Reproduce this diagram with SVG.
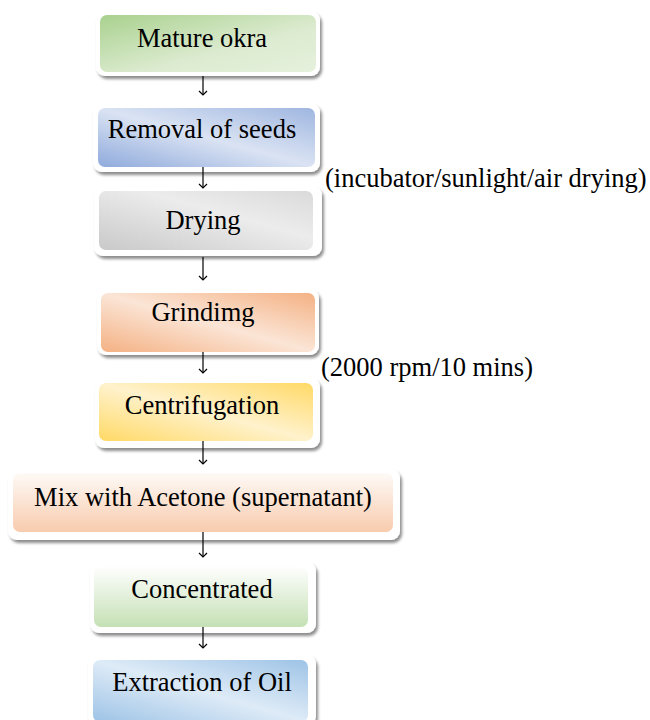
<svg xmlns="http://www.w3.org/2000/svg" width="650" height="720" viewBox="0 0 650 720">
<style>
text{font-family:"Liberation Serif","Times New Roman",serif;font-size:26.5px;fill:#000}
.c{text-anchor:middle}
.frame{fill:#fff;filter:url(#sh)}
.conn line{stroke:#000;stroke-width:1.2;marker-end:url(#ah)}
</style>
<defs>
<filter id="sh" x="-10%" y="-20%" width="120%" height="150%">
<feGaussianBlur in="SourceAlpha" stdDeviation="1.5"/>
<feOffset dx="2" dy="3" result="b"/>
<feComponentTransfer><feFuncA type="linear" slope="0.45"/></feComponentTransfer>
<feMerge><feMergeNode/><feMergeNode in="SourceGraphic"/></feMerge>
</filter>
<marker id="ah" markerWidth="10" markerHeight="10" refX="5" refY="5" orient="auto" markerUnits="userSpaceOnUse">
<path d="M1,1 L5,5 L1,9" fill="none" stroke="#000" stroke-width="1.2"/>
</marker>
<linearGradient id="g1" x1="0" y1="0" x2="1" y2="1"><stop offset="0" stop-color="#a9d18e"/><stop offset="0.6" stop-color="#dcebd0"/><stop offset="1" stop-color="#e6f1dd"/></linearGradient>
<linearGradient id="g2" x1="0" y1="1" x2="1" y2="0"><stop offset="0" stop-color="#8faadc"/><stop offset="0.5" stop-color="#dae3f3"/><stop offset="1" stop-color="#9fb6e0"/></linearGradient>
<linearGradient id="g3" x1="0" y1="1" x2="1" y2="0"><stop offset="0" stop-color="#c9c9c9"/><stop offset="0.6" stop-color="#ececec"/><stop offset="1" stop-color="#dadada"/></linearGradient>
<linearGradient id="g4" x1="0" y1="1" x2="1" y2="0"><stop offset="0" stop-color="#f4b183"/><stop offset="0.5" stop-color="#fbe5d6"/><stop offset="1" stop-color="#f4b183"/></linearGradient>
<linearGradient id="g5" x1="0" y1="1" x2="1" y2="0"><stop offset="0" stop-color="#ffd966"/><stop offset="0.5" stop-color="#fff2cc"/><stop offset="1" stop-color="#ffd966"/></linearGradient>
<linearGradient id="g6" x1="0" y1="0" x2="0" y2="1"><stop offset="0" stop-color="#fefaf7"/><stop offset="1" stop-color="#f8cbad"/></linearGradient>
<linearGradient id="g7" x1="0" y1="0" x2="0" y2="1"><stop offset="0" stop-color="#ffffff"/><stop offset="1" stop-color="#c5e0b4"/></linearGradient>
<linearGradient id="g8" x1="0" y1="1" x2="1" y2="0"><stop offset="0" stop-color="#9dc3e6"/><stop offset="0.5" stop-color="#deebf7"/><stop offset="1" stop-color="#9dc3e6"/></linearGradient>
</defs>
<rect width="650" height="720" fill="#fff"/>

<g id="n1">
<rect class="frame" x="96" y="11" width="224" height="65" rx="9"/>
<rect x="100" y="15" width="216" height="57" rx="7" fill="url(#g1)"/>
<text class="c" x="202" y="47">Mature okra</text>
</g>
<g id="n2">
<rect class="frame" x="93" y="103" width="227" height="69" rx="9"/>
<rect x="98" y="108" width="217" height="59" rx="7" fill="url(#g2)"/>
<text class="c" x="202" y="138">Removal of seeds</text>
</g>
<g id="n3">
<rect class="frame" x="94" y="186" width="228" height="70" rx="9"/>
<rect x="99" y="191" width="214" height="59" rx="7" fill="url(#g3)"/>
<text class="c" x="203" y="229">Drying</text>
</g>
<g id="n4">
<rect class="frame" x="97" y="289" width="222" height="66" rx="9"/>
<rect x="101" y="293" width="214" height="59" rx="7" fill="url(#g4)"/>
<text class="c" x="203" y="321">Grindimg</text>
</g>
<g id="n5">
<rect class="frame" x="95" y="378" width="225" height="70" rx="9"/>
<rect x="99" y="383" width="214" height="58" rx="7" fill="url(#g5)"/>
<text class="c" x="202" y="414">Centrifugation</text>
</g>
<g id="n6">
<rect class="frame" x="8" y="469" width="392" height="71" rx="9"/>
<rect x="13" y="473" width="380" height="59" rx="7" fill="url(#g6)"/>
<text class="c" x="203" y="506">Mix with Acetone (supernatant)</text>
</g>
<g id="n7">
<rect class="frame" x="90" y="562" width="226" height="71" rx="9"/>
<rect x="94" y="566" width="214" height="61" rx="7" fill="url(#g7)"/>
<text class="c" x="202" y="598">Concentrated</text>
</g>
<g id="n8">
<rect class="frame" x="88" y="655" width="228" height="70" rx="9"/>
<rect x="93" y="660" width="215" height="62" rx="7" fill="url(#g8)"/>
<text class="c" x="202" y="691">Extraction of Oil</text>
</g>

<g id="labels">
<text x="325" y="187">(incubator/sunlight/air drying)</text>
<text x="321" y="376">(2000 rpm/10 mins)</text>
</g>

<g class="conn" id="connectors">
<line x1="203" y1="76" x2="203" y2="95"/>
<line x1="203" y1="167" x2="203" y2="188"/>
<line x1="203" y1="257" x2="203" y2="280"/>
<line x1="203" y1="352" x2="203" y2="373"/>
<line x1="203" y1="441" x2="203" y2="464"/>
<line x1="203" y1="532" x2="203" y2="557"/>
<line x1="203" y1="627" x2="203" y2="648"/>
</g>
</svg>
